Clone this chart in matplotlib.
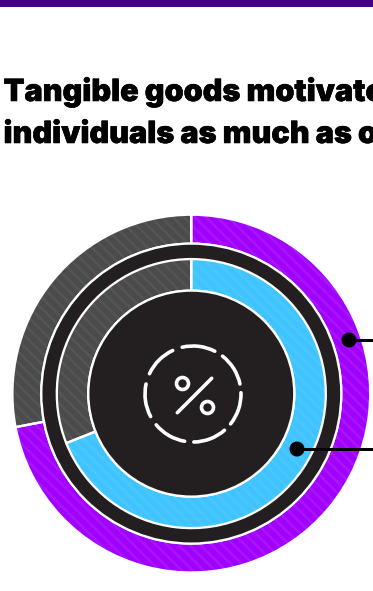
import matplotlib
matplotlib.use('Agg')
import matplotlib.pyplot as plt
import matplotlib.patheffects as pe
from matplotlib.patches import Arc, Circle, Rectangle

# Share of respondents, clockwise from 12 o'clock
outer_values = [72, 28]
inner_values = [69, 31]
outer_colors = ['#a100ff', '#4b4b4b']
inner_colors = ['#40c4ff', '#4b4b4b']
outer_stripes = ['#a715ff', '#545454']
inner_stripes = ['#4bc7ff', '#545454']
title_lines = ['Tangible goods motivate', 'individuals as much as o']

dark = '#231f20'
cx, cy = 191.3, 197.4
px = 72 / 100  # points per pixel at dpi 100

plt.rcParams['hatch.linewidth'] = 1.9

fig = plt.figure(figsize=(3.73, 5.91), dpi=100)
ax = fig.add_axes([0, 0, 1, 1])

# Top band
ax.add_patch(Rectangle((0, 584), 373, 7, color='#45008a', lw=0))

# Title, runs off the right edge; thin stroke to fatten the glyphs
heavy = [pe.withStroke(linewidth=0.4, foreground='black')]
ax.text(3.5, 490, title_lines[0], family='Inter', weight='black', fontsize=22, color='black',
        va='baseline', path_effects=heavy)
ax.text(3.5, 448, title_lines[1], family='Inter', weight='black', fontsize=22, color='black',
        va='baseline', path_effects=heavy)


def ring(values, colors, stripes, radius, width):
    # striped fill first, then a white outline on top
    wedges, _ = ax.pie(values, colors=colors, startangle=90, counterclock=False, center=(cx, cy),
                       radius=radius, frame=True, wedgeprops=dict(width=width, linewidth=0))
    for w, s in zip(wedges, stripes):
        w.set_edgecolor(s)
        w.set_hatch('\\\\\\')
    ax.pie(values, colors=['none', 'none'], startangle=90, counterclock=False, center=(cx, cy),
           radius=radius, frame=True, wedgeprops=dict(width=width, edgecolor='white', linewidth=2.3 * px))


ring(outer_values, outer_colors, outer_stripes, 178.9, 29)
ax.add_patch(Circle((cx, cy), 150, fc=dark, ec='white', lw=2.3 * px))
ring(inner_values, inner_colors, inner_stripes, 134.5, 31.5)
ax.add_patch(Circle((cx, cy), 103, fc=dark, ec='white', lw=2.3 * px))

# Percent icon in the middle
icon_x, icon_y = 193, 197
for start in [63, 12, -38.5, -89, -140, 168, 115]:
    arc = Arc((icon_x, icon_y), 96, 96, theta1=start, theta2=start + 40, color='white', lw=3.6 * px)
    arc.set_capstyle('round')
    ax.add_patch(arc)
ax.plot([177.3, 211.7], [178.3, 212.7], color='white', lw=3.6 * px, solid_capstyle='round')
ax.add_patch(Circle((182.5, 207.5), 6, fc='none', ec='white', lw=3.6 * px))
ax.add_patch(Circle((207.5, 183.5), 6, fc='none', ec='white', lw=3.6 * px))

# Leader lines running off to the right
for x0, y0 in [(349, 251), (297, 142)]:
    ax.plot([x0, 373], [y0, y0], color='black', lw=3 * px, solid_capstyle='butt')
    ax.add_patch(Circle((x0, y0), 7.5, fc='black', ec='none'))

ax.set_xlim(0, 373)
ax.set_ylim(0, 591)
ax.set_aspect('auto')
ax.axis('off')

fig.savefig('out.png', dpi=100)
